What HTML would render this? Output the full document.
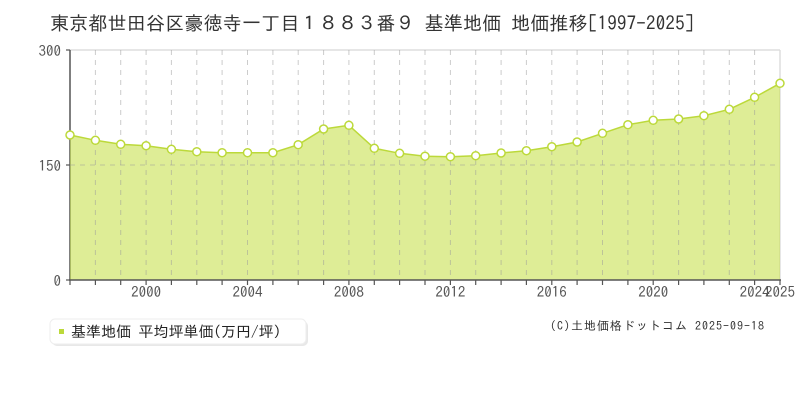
<!DOCTYPE html>
<html><head><meta charset="utf-8"><style>
html,body{margin:0;padding:0;background:#fff;}
svg{display:block;}
text{font-family:"IPAGothic","Liberation Sans","Noto Sans CJK JP",sans-serif;}
</style></head><body>
<svg width="800" height="400" viewBox="0 0 800 400" xmlns="http://www.w3.org/2000/svg">
<rect width="800" height="400" fill="#fff"/>
<text x="50" y="30" font-size="19" fill="#333" letter-spacing="0.2">東京都世田谷区豪徳寺一丁目１８８３番９ 基準地価 地価推移[1997-2025]</text>
<!-- frame -->
<line x1="70" y1="50" x2="780" y2="50" stroke="#ddd" stroke-width="1.5"/>
<line x1="780" y1="50" x2="780" y2="280" stroke="#ddd" stroke-width="1.5"/>
<line x1="70" y1="50" x2="70" y2="280" stroke="#555" stroke-width="1.5"/>
<!-- fill -->
<polygon fill="rgb(200,225,80)" fill-opacity="0.6" points="70,280 70,135 95.4,140.3 120.7,144.3 146.1,145.7 171.4,149.3 196.8,151.7 222.1,152.7 247.5,152.7 272.9,152.7 298.2,144.7 323.6,129 348.9,125.3 374.3,148.3 399.6,153.3 425,156.2 450.4,156.7 475.7,155.7 501.1,153 526.4,150.7 551.8,146.7 577.1,142 602.5,133.3 627.9,124.7 653.2,120.3 678.6,119 703.9,115.7 729.3,109.3 754.6,97.3 780,83.3 780,280"/>
<!-- grid -->
<g stroke="#999" stroke-opacity="0.5" stroke-width="1" stroke-dasharray="5,5">
<line x1="70" y1="165" x2="780" y2="165"/>
<line x1="95.4" y1="50" x2="95.4" y2="280"/>
<line x1="120.7" y1="50" x2="120.7" y2="280"/>
<line x1="146.1" y1="50" x2="146.1" y2="280"/>
<line x1="171.4" y1="50" x2="171.4" y2="280"/>
<line x1="196.8" y1="50" x2="196.8" y2="280"/>
<line x1="222.1" y1="50" x2="222.1" y2="280"/>
<line x1="247.5" y1="50" x2="247.5" y2="280"/>
<line x1="272.9" y1="50" x2="272.9" y2="280"/>
<line x1="298.2" y1="50" x2="298.2" y2="280"/>
<line x1="323.6" y1="50" x2="323.6" y2="280"/>
<line x1="348.9" y1="50" x2="348.9" y2="280"/>
<line x1="374.3" y1="50" x2="374.3" y2="280"/>
<line x1="399.6" y1="50" x2="399.6" y2="280"/>
<line x1="425" y1="50" x2="425" y2="280"/>
<line x1="450.4" y1="50" x2="450.4" y2="280"/>
<line x1="475.7" y1="50" x2="475.7" y2="280"/>
<line x1="501.1" y1="50" x2="501.1" y2="280"/>
<line x1="526.4" y1="50" x2="526.4" y2="280"/>
<line x1="551.8" y1="50" x2="551.8" y2="280"/>
<line x1="577.1" y1="50" x2="577.1" y2="280"/>
<line x1="602.5" y1="50" x2="602.5" y2="280"/>
<line x1="627.9" y1="50" x2="627.9" y2="280"/>
<line x1="653.2" y1="50" x2="653.2" y2="280"/>
<line x1="678.6" y1="50" x2="678.6" y2="280"/>
<line x1="703.9" y1="50" x2="703.9" y2="280"/>
<line x1="729.3" y1="50" x2="729.3" y2="280"/>
<line x1="754.6" y1="50" x2="754.6" y2="280"/>
</g>
<!-- line -->
<polyline fill="none" stroke="#bcd93a" stroke-width="1.5" points="70,135 95.4,140.3 120.7,144.3 146.1,145.7 171.4,149.3 196.8,151.7 222.1,152.7 247.5,152.7 272.9,152.7 298.2,144.7 323.6,129 348.9,125.3 374.3,148.3 399.6,153.3 425,156.2 450.4,156.7 475.7,155.7 501.1,153 526.4,150.7 551.8,146.7 577.1,142 602.5,133.3 627.9,124.7 653.2,120.3 678.6,119 703.9,115.7 729.3,109.3 754.6,97.3 780,83.3"/>
<!-- axes -->
<line x1="69" y1="280" x2="781" y2="280" stroke="#555" stroke-width="1.5"/>
<g stroke="#555" stroke-width="1.2">
<line x1="66" y1="50" x2="70" y2="50"/>
<line x1="66" y1="165" x2="70" y2="165"/>
<line x1="66" y1="280" x2="70" y2="280"/>
<line x1="70" y1="280" x2="70" y2="285"/>
<line x1="95.4" y1="280" x2="95.4" y2="285"/>
<line x1="120.7" y1="280" x2="120.7" y2="285"/>
<line x1="146.1" y1="280" x2="146.1" y2="285"/>
<line x1="171.4" y1="280" x2="171.4" y2="285"/>
<line x1="196.8" y1="280" x2="196.8" y2="285"/>
<line x1="222.1" y1="280" x2="222.1" y2="285"/>
<line x1="247.5" y1="280" x2="247.5" y2="285"/>
<line x1="272.9" y1="280" x2="272.9" y2="285"/>
<line x1="298.2" y1="280" x2="298.2" y2="285"/>
<line x1="323.6" y1="280" x2="323.6" y2="285"/>
<line x1="348.9" y1="280" x2="348.9" y2="285"/>
<line x1="374.3" y1="280" x2="374.3" y2="285"/>
<line x1="399.6" y1="280" x2="399.6" y2="285"/>
<line x1="425" y1="280" x2="425" y2="285"/>
<line x1="450.4" y1="280" x2="450.4" y2="285"/>
<line x1="475.7" y1="280" x2="475.7" y2="285"/>
<line x1="501.1" y1="280" x2="501.1" y2="285"/>
<line x1="526.4" y1="280" x2="526.4" y2="285"/>
<line x1="551.8" y1="280" x2="551.8" y2="285"/>
<line x1="577.1" y1="280" x2="577.1" y2="285"/>
<line x1="602.5" y1="280" x2="602.5" y2="285"/>
<line x1="627.9" y1="280" x2="627.9" y2="285"/>
<line x1="653.2" y1="280" x2="653.2" y2="285"/>
<line x1="678.6" y1="280" x2="678.6" y2="285"/>
<line x1="703.9" y1="280" x2="703.9" y2="285"/>
<line x1="729.3" y1="280" x2="729.3" y2="285"/>
<line x1="754.6" y1="280" x2="754.6" y2="285"/>
<line x1="780" y1="280" x2="780" y2="285"/>
</g>
<!-- markers -->
<g fill="#fff" stroke="#bcd93a" stroke-width="1.5">
<circle cx="70" cy="135" r="4"/><circle cx="95.4" cy="140.3" r="4"/><circle cx="120.7" cy="144.3" r="4"/><circle cx="146.1" cy="145.7" r="4"/><circle cx="171.4" cy="149.3" r="4"/><circle cx="196.8" cy="151.7" r="4"/><circle cx="222.1" cy="152.7" r="4"/><circle cx="247.5" cy="152.7" r="4"/><circle cx="272.9" cy="152.7" r="4"/><circle cx="298.2" cy="144.7" r="4"/><circle cx="323.6" cy="129" r="4"/><circle cx="348.9" cy="125.3" r="4"/><circle cx="374.3" cy="148.3" r="4"/><circle cx="399.6" cy="153.3" r="4"/><circle cx="425" cy="156.2" r="4"/><circle cx="450.4" cy="156.7" r="4"/><circle cx="475.7" cy="155.7" r="4"/><circle cx="501.1" cy="153" r="4"/><circle cx="526.4" cy="150.7" r="4"/><circle cx="551.8" cy="146.7" r="4"/><circle cx="577.1" cy="142" r="4"/><circle cx="602.5" cy="133.3" r="4"/><circle cx="627.9" cy="124.7" r="4"/><circle cx="653.2" cy="120.3" r="4"/><circle cx="678.6" cy="119" r="4"/><circle cx="703.9" cy="115.7" r="4"/><circle cx="729.3" cy="109.3" r="4"/><circle cx="754.6" cy="97.3" r="4"/><circle cx="780" cy="83.3" r="4"/>
</g>
<!-- y labels -->
<g font-size="15" fill="#555" text-anchor="end">
<text x="61" y="56">300</text>
<text x="61" y="171">150</text>
<text x="61" y="286">0</text>
</g>
<!-- x labels -->
<g font-size="15" fill="#555" text-anchor="middle">
<text x="146.1" y="297">2000</text>
<text x="247.5" y="297">2004</text>
<text x="348.9" y="297">2008</text>
<text x="450.4" y="297">2012</text>
<text x="551.8" y="297">2016</text>
<text x="653.2" y="297">2020</text>
<text x="754.6" y="297">2024</text>
<text x="780" y="297">2025</text>
</g>
<!-- legend -->
<rect x="52" y="321" width="256" height="25" rx="5" fill="#e8e8e8"/>
<rect x="50" y="319" width="256" height="25" rx="5" fill="#fff" stroke="#eee"/>
<rect x="59" y="329" width="5" height="5" fill="#bcd93a"/>
<text x="71" y="337" font-size="15" fill="#222">基準地価 平均坪単価(万円/坪)</text>
<!-- copyright -->
<text x="550" y="330" font-size="12" fill="#333" letter-spacing="1">(C)土地価格ドットコム 2025-09-18</text>
</svg>
</body></html>
